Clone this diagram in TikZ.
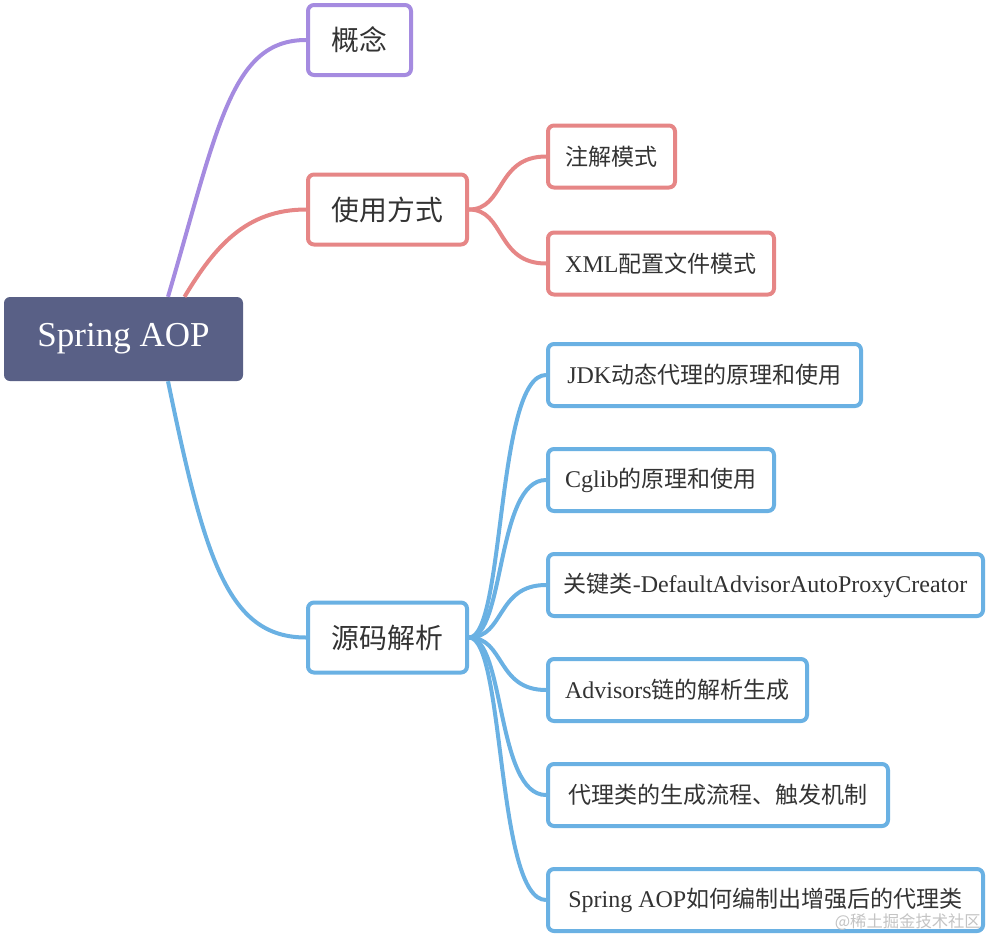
\documentclass[tikz,border=0pt]{standalone}
\usepackage{fontspec}
\setmainfont{Liberation Serif}
\newfontfamily\cjk[Scale=0.96]{Noto Sans CJK SC}
\newcommand{\zh}[1]{{\cjk #1}}
\usetikzlibrary{positioning}

\definecolor{rootfill}{HTML}{596086}
\definecolor{purp}{HTML}{A58BE0}
\definecolor{rosy}{HTML}{E68686}
\definecolor{sky}{HTML}{6AB1E3}
\definecolor{ink}{HTML}{333333}
\definecolor{wmgray}{HTML}{C4C4C4}

\begin{document}
\begin{tikzpicture}[
    x=1pt, y=-1pt,
    node distance=39pt and 0pt,
    rootbox/.style={rectangle, fill=rootfill, rounded corners=6pt, minimum width=239pt,
                    minimum height=84pt, text=white, font=\fontsize{35}{40}\selectfont},
    topic/.style={rectangle, draw, fill=white, line width=4pt, rounded corners=6pt,
                  minimum height=70pt, inner xsep=0pt, text=ink, font=\fontsize{29}{34}\selectfont},
    leaf/.style={rectangle, draw, fill=white, line width=4pt, rounded corners=6pt,
                 minimum height=62pt, inner xsep=0pt, text=ink, font=\fontsize{24}{28}\selectfont},
    link/.style={line width=4pt}
  ]
  \useasboundingbox (0,0) rectangle (988,938);

  % ---- Root ----
  \node[rootbox] (root) at (123.5,339) {Spring AOP};

  % ---- First level ----
  \node[topic, draw=purp, minimum width=103pt, anchor=west] (concept) at (306,40)    {\zh{概念}};
  \node[topic, draw=rosy, minimum width=159pt, anchor=west] (uses)    at (306,209.5) {\zh{使用方式}};
  \node[topic, draw=sky,  minimum width=159pt, anchor=west] (source)  at (306,637.5) {\zh{源码解析}};

  % ---- Usage ----
  \node[leaf, draw=rosy, minimum width=127pt, anchor=west] (anno) at (546,156.5) {\zh{注解模式}};
  \node[leaf, draw=rosy, minimum width=226pt, below right=41pt and 0pt of anno.south west] (xml)
       {XML\zh{配置文件模式}};

  % ---- Source analysis ----
  \node[leaf, draw=sky, minimum width=313pt, anchor=west] (jdk) at (546,375) {JDK\zh{动态代理的原理和使用}};
  \node[leaf, draw=sky, minimum width=226pt, below right=of jdk.south west]    (cglib)
       {Cglib\zh{的原理和使用}};
  \node[leaf, draw=sky, minimum width=435pt, below right=of cglib.south west]  (keycls)
       {\zh{关键类}-DefaultAdvisorAutoProxyCreator};
  \node[leaf, draw=sky, minimum width=259pt, below right=of keycls.south west] (advchain)
       {Advisors\zh{链的解析生成}};
  \node[leaf, draw=sky, minimum width=340pt, below right=of advchain.south west] (proxyflow)
       {\zh{代理类的生成流程、触发机制}};
  \node[leaf, draw=sky, minimum width=435pt, below right=of proxyflow.south west] (weave)
       {Spring AOP\zh{如何编制出增强后的代理类}};

  % ---- Links ----
  \draw[link, purp] ([xshift=44.5pt]root.north) .. controls +(50,-170) and +(-75,0) .. (concept.west);
  \draw[link, rosy] ([xshift=61pt]root.north) .. controls +(30,-50) and +(-60,0) .. (uses.west);
  \draw[link, sky]  ([xshift=44.5pt]root.south) .. controls +(37,179) and +(-78,0) .. (source.west);

  \draw[link, rosy] (uses.east) .. controls +(36,0) and +(-50,0) .. (anno.west);
  \draw[link, rosy] (uses.east) .. controls +(36,0) and +(-50,0) .. (xml.west);

  \draw[link, sky] (source.east) .. controls +(36,0) and +(-50,0) .. (jdk.west);
  \draw[link, sky] (source.east) .. controls +(36,0) and +(-50,0) .. (cglib.west);
  \draw[link, sky] (source.east) .. controls +(36,0) and +(-50,0) .. (keycls.west);
  \draw[link, sky] (source.east) .. controls +(36,0) and +(-50,0) .. (advchain.west);
  \draw[link, sky] (source.east) .. controls +(36,0) and +(-50,0) .. (proxyflow.west);
  \draw[link, sky] (source.east) .. controls +(36,0) and +(-50,0) .. (weave.west);

  % ---- Watermark ----
  \node[text=wmgray, font=\fontsize{17}{20}\selectfont, anchor=east, inner sep=0pt] (mark)
       at (981,922) {\zh{@稀土掘金技术社区}};
\end{tikzpicture}
\end{document}
